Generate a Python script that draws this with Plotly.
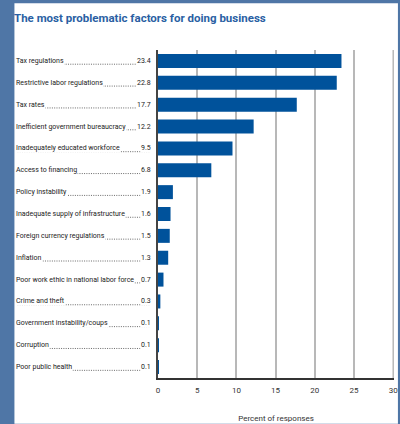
import plotly.graph_objects as go

categories = [
    "Tax regulations",
    "Restrictive labor regulations",
    "Tax rates",
    "Inefficient government bureaucracy",
    "Inadequately educated workforce",
    "Access to financing",
    "Policy instability",
    "Inadequate supply of infrastructure",
    "Foreign currency regulations",
    "Inflation",
    "Poor work ethic in national labor force",
    "Crime and theft",
    "Government instability/coups",
    "Corruption",
    "Poor public health",
]
values = [23.4, 22.8, 17.7, 12.2, 9.5, 6.8, 1.9, 1.6, 1.5, 1.3, 0.7, 0.3, 0.1, 0.1, 0.1]
x_ticks = [0, 5, 10, 15, 20, 25, 30]

W, H = 400, 424
L, R, T, B = 158, 2, 50, 44
PW = W - L - R
PH = H - T - B

def px_x(p):
    return (p - L) / PW

def px_y(p):
    return (H - B - p) / PH

FONT = "Roboto, Liberation Sans, sans-serif"
BAR = "#00529b"
TXT = "#222222"

fig = go.Figure()
fig.add_trace(go.Bar(
    x=values, y=categories, orientation="h",
    marker=dict(color=BAR, line=dict(width=0)),
    width=0.64, hoverinfo="x+y",
))

shapes = [
    dict(type="rect", xref="paper", yref="paper",
         x0=px_x(12), x1=px_x(402), y0=px_y(426), y1=px_y(3),
         fillcolor="white", line=dict(width=0), layer="below"),
    dict(type="line", xref="x", yref="paper", x0=x_ticks[-1], x1=x_ticks[-1], y0=0, y1=1,
         line=dict(color="#b8b8b8", width=1.5), layer="below"),
]
annotations = []
for i, (c, v) in enumerate(zip(categories, values)):
    shapes.append(dict(type="line", xref="paper", yref="y",
                       x0=px_x(15), x1=px_x(150), y0=i + 0.15, y1=i + 0.15,
                       line=dict(color="#444444", width=0.8, dash="1px,1.3px"), layer="above"))
    annotations.append(dict(text=c, xref="paper", yref="y", x=px_x(13), y=c,
                            xanchor="left", yanchor="middle", showarrow=False,
                            bgcolor="white", borderpad=0,
                            font=dict(family=FONT, size=7, color=TXT)))
    annotations.append(dict(text=f"{v:.1f}", xref="paper", yref="y", x=px_x(152), y=c,
                            xanchor="right", yanchor="middle", showarrow=False,
                            bgcolor="white", borderpad=0,
                            font=dict(family=FONT, size=7, color=TXT)))

fig.update_layout(
    width=W, height=H,
    margin=dict(l=L, r=R, t=T, b=B, pad=0),
    paper_bgcolor="#4f76a6",
    plot_bgcolor="rgba(0,0,0,0)",
    showlegend=False,
    bargap=0.36,
    title=dict(text="<b>The most problematic factors for doing business</b>",
               x=14 / W, xanchor="left", y=1 - 18 / H, yanchor="middle",
               xref="container", yref="container",
               font=dict(family=FONT, size=11.5, color="#2a5fa3")),
    xaxis=dict(range=[0, 30.1], tickvals=x_ticks, ticktext=[str(t) for t in x_ticks],
               showgrid=True, gridcolor="#b8b8b8", gridwidth=1.5,
               zeroline=False, showline=True, linecolor="#333333", linewidth=2,
               ticks="", ticklen=0, ticklabeloverflow="allow", ticklabelstandoff=3,
               tickfont=dict(family=FONT, size=8, color="#333333"),
               title=dict(text="Percent of responses", standoff=22,
                          font=dict(family=FONT, size=8, color="#333333")),
               fixedrange=True),
    yaxis=dict(autorange="reversed", showticklabels=False, showgrid=False,
               zeroline=False, showline=True, linecolor="#444444", linewidth=1.5,
               ticks="", fixedrange=True),
    shapes=shapes,
    annotations=annotations,
)

fig.write_html("out.html", config={"displayModeBar": False},
               post_script="document.body.style.margin='0';document.body.style.padding='0';")
